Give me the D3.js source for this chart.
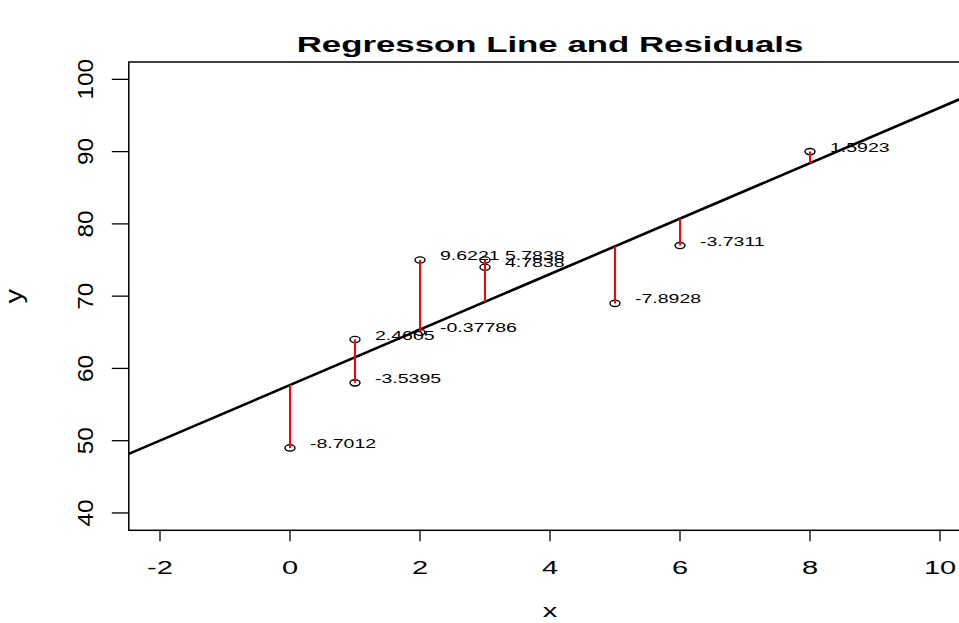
<!DOCTYPE html>
<html>
<head>
<meta charset="utf-8">
<script src="https://cdn.jsdelivr.net/npm/d3@7"></script>
<style>
  body { margin: 0; background: #fff; }
  svg { display: block; }
  text { font-family: "Liberation Sans", Arial, sans-serif; fill: #000; }
</style>
</head>
<body>
<svg id="chart" width="959" height="623"></svg>
<script>
// observed data
const xs = [0, 1, 1, 2, 2, 3, 3, 5, 6, 8];
const ys = [49, 64, 58, 75, 65, 75, 74, 69, 77, 90];

const xTicks = [-2, 0, 2, 4, 6, 8, 10];
const yTicks = [40, 50, 60, 70, 80, 90, 100];
const xLim = [-2, 10];
const yLim = [40, 100];

const title = "Regresson Line and Residuals";

// least squares fit
let mx = d3.mean(xs), my = d3.mean(ys);
let sxy = d3.sum(xs, (d, i) => (d - mx) * (ys[i] - my));
let sxx = d3.sum(xs, d => (d - mx) * (d - mx));
let slope = sxy / sxx;
let intercept = my - slope * mx;
let fitted = xs.map(d => intercept + slope * d);
let fmt = d3.format(".5~g");

let points = xs.map((d, i) => ({
    x: d,
    y: ys[i],
    fit: fitted[i],
    label: fmt(ys[i] - fitted[i]).replace("\u2212", "-")
}));

// R style 4% axis expansion
let xPad = (xLim[1] - xLim[0]) * 0.04;
let yPad = (yLim[1] - yLim[0]) * 0.04;

let x = d3.scaleLinear().domain([xLim[0] - xPad, xLim[1] + xPad]).range([128.8, 971.2]);
let y = d3.scaleLinear().domain([yLim[0] - yPad, yLim[1] + yPad]).range([530.3, 62]);

let svg = d3.select("#chart");
let [pLeft, pRight] = x.range();
let [pBottom, pTop] = y.range();

svg.append("clipPath").attr("id", "plotClip")
    .append("rect")
    .attr("x", pLeft).attr("y", pTop)
    .attr("width", pRight - pLeft).attr("height", pBottom - pTop);

// horizontal text, squashed vertically like the reference
function hText(str, px, py, size, sy, anchor, weight) {
    return svg.append("text")
        .attr("transform", "translate(" + px + "," + py + ") scale(1," + sy + ")")
        .attr("font-size", size)
        .attr("font-weight", weight || "normal")
        .attr("text-anchor", anchor || "middle")
        .text(str);
}

// box
svg.append("rect")
    .attr("x", pLeft).attr("y", pTop)
    .attr("width", pRight - pLeft).attr("height", pBottom - pTop)
    .style("fill", "none")
    .style("stroke", "#000")
    .style("stroke-width", 1.5);

// x axis
svg.selectAll("line.xtick")
    .data(xTicks)
    .enter()
    .append("line")
    .attr("class", "xtick")
    .attr("x1", d => x(d)).attr("x2", d => x(d))
    .attr("y1", pBottom).attr("y2", pBottom + 11)
    .style("stroke", "#000").style("stroke-width", 1.3);

xTicks.forEach(d => hText(String(d).replace("\u2212", "-"), x(d), 573.5, 29, 0.62));

// y axis
svg.selectAll("line.ytick")
    .data(yTicks)
    .enter()
    .append("line")
    .attr("class", "ytick")
    .attr("x1", pLeft - 17).attr("x2", pLeft)
    .attr("y1", d => y(d)).attr("y2", d => y(d))
    .style("stroke", "#000").style("stroke-width", 1.3);

svg.selectAll("text.ylab")
    .data(yTicks)
    .enter()
    .append("text")
    .attr("class", "ylab")
    .attr("transform", d => "translate(93," + y(d) + ") rotate(-90) scale(1.08,1)")
    .attr("font-size", 22.5)
    .attr("text-anchor", "middle")
    .text(d => d);

// titles
hText(title, (pLeft + pRight) / 2, 52, 34.8, 0.63, "middle", "bold");
hText("x", (pLeft + pRight) / 2, 617, 29, 0.62);
svg.append("text")
    .attr("transform", "translate(22," + ((pTop + pBottom) / 2) + ") rotate(-90) scale(1,0.8)")
    .attr("font-size", 29)
    .attr("text-anchor", "middle")
    .text("y");

let plot = svg.append("g").attr("clip-path", "url(#plotClip)");

// points
plot.selectAll("ellipse")
    .data(points)
    .enter()
    .append("ellipse")
    .attr("cx", d => x(d.x))
    .attr("cy", d => y(d.y))
    .attr("rx", 5)
    .attr("ry", 3.1)
    .style("fill", "none")
    .style("stroke", "#000")
    .style("stroke-width", 1.4);

// regression line
let xd = x.domain();
plot.append("line")
    .attr("x1", x(xd[0])).attr("y1", y(intercept + slope * xd[0]))
    .attr("x2", x(xd[1])).attr("y2", y(intercept + slope * xd[1]))
    .style("stroke", "#000")
    .style("stroke-width", 2.6);

// residuals
plot.selectAll("line.resid")
    .data(points)
    .enter()
    .append("line")
    .attr("class", "resid")
    .attr("x1", d => x(d.x)).attr("x2", d => x(d.x))
    .attr("y1", d => y(d.y)).attr("y2", d => y(d.fit))
    .style("stroke", "#ff0000")
    .style("stroke-width", 2);

points.forEach(d => hText(d.label, x(d.x) + 20, y(d.y), 19.5, 0.7, "start"));
</script>
</body>
</html>
